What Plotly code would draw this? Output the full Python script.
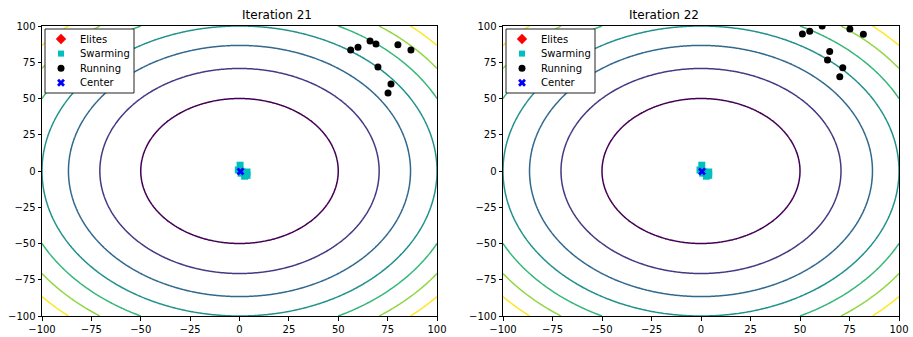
import numpy as np
import plotly.graph_objects as go

W, H = 913, 337
titles = ["Iteration 21", "Iteration 22"]
ticks = [-100, -75, -50, -25, 0, 25, 50, 75, 100]
levels_start, levels_end, levels_step = 2500, 17500, 2500
legend_names = ["Elites", "Swarming", "Running", "Center"]

# Running particles
run21_x = [56.3, 60.0, 66.1, 69.1, 80.2, 86.8, 70.1, 76.7, 75.2]
run21_y = [83.4, 85.3, 89.7, 87.6, 87.1, 83.4, 71.7, 60.0, 53.8]
run22_x = [51.2, 54.9, 61.2, 75.2, 82.0, 65.0, 63.9, 71.6, 70.1]
run22_y = [94.5, 96.3, 100.0, 97.9, 94.3, 82.5, 76.5, 71.2, 65.0]
# Swarming particles
sw21_x = [0.3, -0.6, 1.5, 3.8, 3.8, 2.6, 0.8]
sw21_y = [4.0, 0.7, -0.7, -0.7, -3.0, -3.6, -1.5]
sw22_x = [0.4, -0.5, 1.6, 3.9, 3.9, 2.7, 0.9]
sw22_y = [4.0, 0.7, -0.7, -0.7, -3.0, -3.6, -1.5]
# Elites (hidden under swarm)
el21_x = [1.5]; el21_y = [-0.7]
el22_x = [1.6]; el22_y = [-0.7]
# Center
c21 = (0.5, -0.35)
c22 = (0.5, -0.35)

viridis7 = ["#440154", "#443983", "#31688e", "#21918c", "#35b779", "#90d743", "#fde725"]
cscale = [[i / 6, c] for i, c in enumerate(viridis7)]

styles = {
    "Elites": dict(symbol="diamond", color="red", size=8),
    "Swarming": dict(symbol="square", color="#00bfbf", size=7),
    "Running": dict(symbol="circle", color="black", size=7),
    "Center": dict(symbol="x", color="blue", size=7, line=dict(width=0)),
}
legend_styles = dict(styles)
legend_styles["Swarming"] = dict(symbol="square", color="#00bfbf", size=6)

g = np.linspace(-100, 100, 301)
GX, GY = np.meshgrid(g, g)
Z = GX ** 2 + GY ** 2

fig = go.Figure()
panels = [
    (run21_x, run21_y, sw21_x, sw21_y, el21_x, el21_y, c21, "x", "y"),
    (run22_x, run22_y, sw22_x, sw22_y, el22_x, el22_y, c22, "x2", "y2"),
]
for (rx, ry, sx, sy, ex, ey, c, xa, ya) in panels:
    fig.add_trace(go.Contour(x=g, y=g, z=Z, xaxis=xa, yaxis=ya,
                             contours=dict(coloring="lines", start=levels_start, end=levels_end, size=levels_step),
                             colorscale=cscale, zmin=levels_start, zmax=levels_end,
                             line=dict(width=1.5), showscale=False, showlegend=False, hoverinfo="skip"))
    for name, xs, ys in [("Elites", ex, ey), ("Swarming", sx, sy), ("Running", rx, ry), ("Center", [c[0]], [c[1]])]:
        fig.add_trace(go.Scatter(x=xs, y=ys, mode="markers", name=name, xaxis=xa, yaxis=ya,
                                 marker=styles[name], showlegend=False))

# Legends drawn on a pixel-coordinate helper axis covering the whole figure
doms = [(42 / W, 437 / W), (503 / W, 899 / W)]
leg_boxes = [(45, 134), (506, 595)]
leg_top, leg_bot = 29, 93
leg_row0, leg_dy = 39, 14.6
shapes = []
annotations = []
for (lx0, lx1) in leg_boxes:
    shapes.append(dict(type="rect", xref="x3", yref="y3", x0=lx0, x1=lx1, y0=leg_top, y1=leg_bot,
                       line=dict(color="#222", width=1), fillcolor="white", layer="below"))
for k, (lx0, lx1) in enumerate(leg_boxes):
    for i, name in enumerate(legend_names):
        yy = leg_row0 + i * leg_dy
        fig.add_trace(go.Scatter(x=[lx0 + 16], y=[yy], mode="markers", marker=legend_styles[name],
                                 xaxis="x3", yaxis="y3", showlegend=False, hoverinfo="skip"))
        annotations.append(dict(text=name, x=lx0 + 33, y=yy, xref="x3", yref="y3", xanchor="left",
                                yanchor="middle", showarrow=False,
                                font=dict(family="DejaVu Sans", size=10, color="black")))

y0, y1 = 1 - 316 / H, 1 - 26 / H
axcommon = dict(range=[-100, 100], tickvals=ticks, ticks="outside", ticklen=3.5, tickcolor="black",
                showline=True, linecolor="black", linewidth=1, mirror=True, showgrid=False, zeroline=False,
                automargin=False, tickfont=dict(family="DejaVu Sans", size=10, color="black"))
for i, t in enumerate(titles):
    annotations.append(dict(text=t, x=(doms[i][0] + doms[i][1]) / 2, y=1 - 15 / H, xref="paper", yref="paper",
                            showarrow=False, yanchor="middle",
                            font=dict(family="DejaVu Sans", size=12, color="black")))

fig.update_layout(
    template="none",
    width=W, height=H, margin=dict(l=0, r=0, t=0, b=0, autoexpand=False),
    paper_bgcolor="white", plot_bgcolor="rgba(0,0,0,0)",
    showlegend=False,
    xaxis=dict(domain=doms[0], anchor="y", **axcommon),
    yaxis=dict(domain=[y0, y1], anchor="x", **axcommon),
    xaxis2=dict(domain=doms[1], anchor="y2", **axcommon),
    yaxis2=dict(domain=[y0, y1], anchor="x2", **axcommon),
    xaxis3=dict(domain=[0, 1], range=[0, W], visible=False, fixedrange=True, anchor="y3",
                showgrid=False, zeroline=False),
    yaxis3=dict(domain=[0, 1], range=[H, 0], visible=False, fixedrange=True, anchor="x3",
                showgrid=False, zeroline=False),
    shapes=shapes,
    annotations=annotations,
)
fig.write_html("out.html", config={"displayModeBar": False},
               post_script="document.body.style.margin='0';document.body.style.padding='0';")
